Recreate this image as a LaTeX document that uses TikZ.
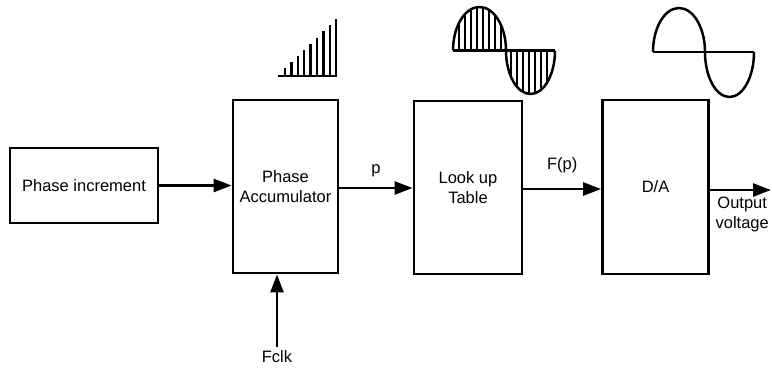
\documentclass[tikz,border=0pt]{standalone}
\usepackage{fontspec}
\setmainfont{Liberation Sans}
\usepackage{tikz}
\usetikzlibrary{arrows.meta,positioning,calc}

\begin{document}
\begin{tikzpicture}[
    x=1pt, y=-1pt,
    block/.style={draw, line width=2.8pt, inner sep=0pt, align=center,
                  font=\fontsize{16.5}{20}\selectfont},
    arr/.style={-{Triangle[length=18pt,width=13pt]}, line width=2.6pt},
    lbl/.style={font=\fontsize{16.5}{20}\selectfont, inner sep=0pt, align=center},
    wave/.style={line width=2.5pt, line join=round}
]
    \useasboundingbox (0,0) rectangle (772,368);

    % Blocks
    \node[block, minimum width=148pt, minimum height=75pt] (inc) at (84,185.5) {Phase increment};
    \node[block, minimum width=105pt, minimum height=173pt] (acc) at (285.5,186.5) {Phase\\Accumulator};
    \node[block, minimum width=108pt, minimum height=173pt] (lut) at (468,187.5) {Look up\\Table};
    \node[block, minimum width=106pt, minimum height=174pt] (da) at (655.5,187) {D/A};

    % Inputs and output
    \node[lbl] (fclk) at (277,357) {Fclk};
    \coordinate (out) at (771,190);

    % Arrows
    \draw[arr] (inc.east) -- (acc.west |- inc.east);
    \draw[arr] (acc.east |- 0,188) -- node[lbl, above=10pt] (p) {p} (lut.west |- 0,188);
    \draw[arr] (lut.east |- 0,189) -- node[lbl, above=15pt] (fp) {F(p)} (da.west |- 0,189);
    \draw[arr] (da.east |- out) -- (out);
    \node[lbl, below=7pt of out, anchor=north east, xshift=-2pt] (vout) {Output\\voltage};
    \draw[arr] ([yshift=4pt]fclk.north) -- (fclk.north |- acc.south);

    % Ramp over the accumulator
    \draw[wave] (278,76) -- (337,76);
    \foreach \i in {0,...,8}
        \draw[wave] ({285+6.4*\i},76) -- ({285+6.4*\i},{68-6.1*\i});

    % Sampled sine over the look up table
    \begin{scope}
        \clip (453,50.5) arc[start angle=180, end angle=0, x radius=26.5pt, y radius=43.5pt] -- cycle;
        \foreach \x in {459,465,...,501}
            \draw[line width=2pt] (\x,0) -- (\x,51);
    \end{scope}
    \begin{scope}
        \clip (506,50.5) arc[start angle=180, end angle=360, x radius=24.5pt, y radius=43.5pt] -- cycle;
        \foreach \x in {511,517,...,551}
            \draw[line width=2pt] (\x,50) -- (\x,100);
    \end{scope}
    \draw[wave] (453,50.5) arc[start angle=180, end angle=0, x radius=26.5pt, y radius=43.5pt]
        arc[start angle=180, end angle=360, x radius=24.5pt, y radius=43.5pt];
    \draw[wave] (453,50.5) -- (555,50.5);

    % Analog sine over the D/A
    \draw[wave] (653,52) arc[start angle=180, end angle=0, x radius=26pt, y radius=44pt]
        arc[start angle=180, end angle=360, x radius=24.5pt, y radius=45pt];
    \draw[wave] (653,52) -- (754,52);

\end{tikzpicture}
\end{document}
